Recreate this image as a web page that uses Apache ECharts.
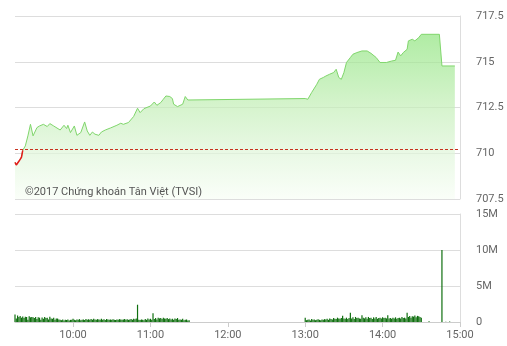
<!DOCTYPE html>
<html><head><meta charset="utf-8">
<script src="https://cdn.jsdelivr.net/npm/echarts@6/dist/echarts.min.js"></script>
<style>html,body{margin:0;padding:0;background:#fff}#c{width:507px;height:346px}</style>
</head><body><div id="c"></div>
<script>
// ---- data ----
const priceTimes = ['09:15','09:16','09:18','09:19','09:20','09:21','09:23','09:25','09:27','09:29','09:32','09:34','09:37','09:40','09:42','09:45','09:50','09:53','09:55','09:56','09:58','10:01','10:03','10:06','10:09','10:11','10:13','10:15','10:17','10:20','10:22','10:25','10:29','10:34','10:37','10:39','10:43','10:47','10:50','10:52','10:55','11:00','11:03','11:05','11:08','11:10','11:12','11:15','11:17','11:18','11:21','11:25','11:27','11:29','11:30','13:00','13:02','13:05','13:09','13:11','13:14','13:16','13:19','13:22','13:24','13:26','13:28','13:30','13:32','13:35','13:37','13:40','13:44','13:48','13:51','13:55','13:58','14:03','14:07','14:10','14:12','14:14','14:16','14:19','14:20','14:23','14:25','14:28','14:30','14:44','14:46','14:56'];
const prices = [709.50,709.36,709.56,709.67,709.78,710.16,710.40,710.95,711.58,710.95,711.40,711.49,711.58,711.46,711.62,711.49,711.27,711.53,711.35,711.53,711.13,711.49,710.98,711.13,711.71,711.22,710.98,711.16,711.04,710.98,711.16,711.27,711.38,711.53,711.64,711.58,711.68,712.01,712.46,712.22,712.44,712.58,712.80,712.62,712.77,712.95,713.13,713.10,712.99,712.68,712.55,712.68,713.10,712.91,712.99,712.99,712.95,713.32,713.77,714.04,714.14,714.22,714.32,714.41,714.59,714.14,714.04,714.41,714.96,715.23,715.41,715.50,715.59,715.59,715.46,715.23,714.96,714.96,715.04,715.08,715.53,715.32,715.50,715.68,716.14,716.23,716.14,716.32,716.50,716.50,714.77,714.77];
const refPrice = 710.2;
const volMorningStart = '09:15'; // one value per minute, millions
const volMorning = [1.05,0.5,0.9,0.7,0.85,0.6,
 0.75,0.55,0.72,0.7,0.3,0.8,
 0.65,0.7,0.66,0.55,0.68,0.4,0.65,0.6,0.3,0.62,
 0.45,0.7,0.55,0.6,0.35,0.72,0.5,0.45,0.6,0.3,0.5,0.48,0.35,
 0.3,0.25,0.35,0.2,0.3,0.28,0.35,0.2,0.3,0.32,0.45,0.3,0.25,
 0.35,0.3,0.4,0.25,0.3,0.35,0.28,0.42,0.3,0.38,0.32,0.4,0.3,0.45,0.35,
 0.3,0.4,0.35,0.3,0.45,0.32,0.38,0.28,0.42,0.35,0.3,
 0.35,0.3,0.38,0.32,0.28,0.35,0.3,0.4,0.33,0.3,0.35,0.42,0.3,
 0.38,0.3,0.35,0.42,0.3,0.45,0.38,0.5,2.4,
 0.3,0.28,0.35,0.3,0.25,0.4,0.3,0.5,0.35,0.45,0.3,1.2,
 0.4,0.55,0.35,0.6,0.5,0.55,0.4,0.6,0.5,0.45,0.55,0.4,0.5,
 0.35,0.45,0.3,0.5,0.4,0.55,0.3,0.35,0.3,0.45,0.25,0.3,0.35,0.2,0.25];
const volAfternoonStart = '13:00';
const volAfternoon = [0.6,0.25,0.3,0.35,0.2,0.4,0.3,0.35,0.25,0.3,0.38,0.3,0.25,0.35,0.3,0.4,0.35,
 0.45,0.3,0.5,0.4,0.35,0.55,0.45,0.4,0.6,0.5,0.45,0.55,
 0.86,0.5,0.45,0.6,0.4,0.55,1.3,0.5,0.65,0.4,0.7,0.55,0.6,0.5,0.45,
 0.95,0.6,0.5,0.65,0.45,0.7,0.55,0.6,0.4,0.65,0.5,0.7,0.45,0.55,0.6,0.5,0.65,0.55,0.6,0.5,0.95,
 0.5,0.55,0.45,0.6,0.5,0.65,0.45,0.55,0.6,0.5,0.7,0.55,0.6,0.5,
 1.3,0.7,0.85,0.6,0.8,0.75,0.9,0.65,0.85,0.8,0.7,0.6];
const volLateTimes = ['14:36','14:46','14:49','14:52'];
const volLate = [0.1,10.0,0.05,0.06];
const priceTicks = [707.5,710,712.5,715,717.5];
const volTicks = [0,5,10,15];
const timeTicks = ['10:00','11:00','12:00','13:00','14:00','15:00'];
const sessionStart = '09:15', sessionEnd = '15:00';
const watermark = '©2017 Chứng khoán Tân Việt (TVSI)';

// ---- build ----
const toMin = s => { const [h,m] = s.split(':').map(Number); return (h-9)*60+m; };
const fmtMin = v => { const h = 9+Math.floor(v/60), m = Math.round(v%60); return h+':'+(m<10?'0':'')+m; };
const priceData = priceTimes.map((t,i)=>[toMin(t), prices[i]]);
// red part: leading points below the reference price
const redData = [];
for (let i=0;i<priceData.length && priceData[i][1] < refPrice;i++) redData.push(priceData[i]);
const volData = [];
volMorning.forEach((v,i)=>volData.push([toMin(volMorningStart)+i, v]));
volAfternoon.forEach((v,i)=>volData.push([toMin(volAfternoonStart)+i, v]));
volLateTimes.forEach((t,i)=>volData.push([toMin(t), volLate[i]]));
const tickMins = timeTicks.map(toMin);

const FONT = "Roboto, sans-serif";
const labelStyle = {color:'#666', fontSize:11, fontFamily:FONT};
const chart = echarts.init(document.getElementById('c'), null, {renderer:'canvas'});
chart.setOption({
  animation:false,
  backgroundColor:'#fff',
  grid:[
    {left:15, right:47, top:16, height:183},
    {left:15, right:47, top:214, height:108}
  ],
  xAxis:[
    {type:'value', gridIndex:0, min:toMin(sessionStart), max:toMin(sessionEnd),
     axisLine:{show:false}, axisTick:{show:false}, axisLabel:{show:false}, splitLine:{show:false}},
    {type:'value', gridIndex:1, min:toMin(sessionStart), max:toMin(sessionEnd),
     axisLine:{show:true, lineStyle:{color:'#ccc'}},
     axisTick:{show:true, length:5, lineStyle:{color:'#ccc'}, customValues:tickMins},
     axisLabel:Object.assign({margin:8, customValues:tickMins, formatter:v=>fmtMin(v)}, labelStyle),
     splitLine:{show:false}}
  ],
  yAxis:[
    {type:'value', gridIndex:0, position:'right', min:priceTicks[0], max:priceTicks[priceTicks.length-1], interval:2.5,
     axisLine:{show:true, lineStyle:{color:'#ddd'}}, axisTick:{show:false},
     axisLabel:Object.assign({margin:16, formatter:v=>String(v)}, labelStyle),
     splitLine:{lineStyle:{color:'#ddd'}}},
    {type:'value', gridIndex:1, position:'right', min:volTicks[0], max:volTicks[volTicks.length-1], interval:5,
     axisLine:{show:true, lineStyle:{color:'#ddd'}}, axisTick:{show:false},
     axisLabel:Object.assign({margin:16, formatter:v=>v===0?'0':v+'M'}, labelStyle),
     splitLine:{lineStyle:{color:'#ddd'}}}
  ],
  graphic:[{type:'text', left:25, top:187, z:10, style:{text:watermark, fill:'#555', font:"11px Roboto, sans-serif"}}],
  series:[
    {type:'line', xAxisIndex:0, yAxisIndex:0, data:priceData, showSymbol:false, symbol:'none',
     lineStyle:{width:1, color:'#80d66c'},
     areaStyle:{origin:'start', color:new echarts.graphic.LinearGradient(0,0,0,1,[
       {offset:0,color:'#8ee47d'},{offset:0.45,color:'#c5efb9'},{offset:0.72,color:'#e0f6da'},{offset:1,color:'#f8fef6'}])},
     markLine:{silent:true, symbol:'none', label:{show:false},
       lineStyle:{color:'#c8321e', type:[3,2], width:1, opacity:1},
       emphasis:{disabled:true},
       data:[{yAxis:refPrice}]},
     z:3},
    {type:'line', xAxisIndex:0, yAxisIndex:0, data:redData, showSymbol:false, symbol:'none',
     lineStyle:{width:1.5, color:'#e41b1b'}, z:4},
    {type:'bar', xAxisIndex:1, yAxisIndex:1, data:volData, barWidth:1.2, itemStyle:{color:'#0f6f0f'}}
  ]
});
</script></body></html>
